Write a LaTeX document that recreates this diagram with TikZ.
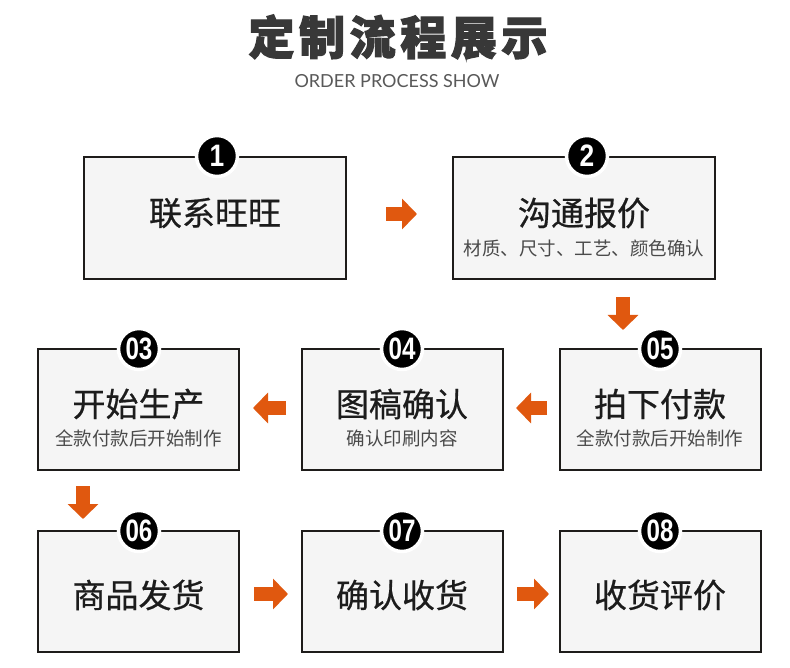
\documentclass[tikz,border=0pt]{standalone}
\usepackage{fontspec}
\setmainfont{Noto Sans CJK SC}
\newfontfamily\titlefont[FakeBold=2.5,LetterSpace=10]{Noto Sans CJK SC}
\newfontfamily\maincjk[FakeBold=0.6]{Noto Sans CJK SC}
\newfontfamily\latinfont{Lato}
\newfontfamily\numfont{Liberation Sans}
\usetikzlibrary{arrows.meta}
\definecolor{boxfill}{HTML}{F5F5F5}
\definecolor{boxline}{HTML}{1E1C1A}
\definecolor{arr}{HTML}{E0580F}
\definecolor{maintext}{HTML}{1C1C1C}
\definecolor{subtext}{HTML}{4A4A4A}
\begin{document}
\begin{tikzpicture}[x=1pt,y=-1pt,
  stepbox/.style={draw=boxline,line width=2pt,fill=boxfill,minimum width=#1,minimum height=121pt,inner sep=0pt},
  numc/.style={circle,fill=black,draw=white,line width=3.5pt,minimum size=41pt,inner sep=0pt,text=white,font=\numfont\bfseries\fontsize{31}{31}\selectfont},
  mtext/.style={text=maintext,font=\maincjk\fontsize{33}{33}\selectfont,inner sep=0pt},
  stext/.style={text=subtext,font=\fontsize{18.5}{18.5}\selectfont,inner sep=0pt},
  barrow/.style={draw=arr,line width=14pt,-{Triangle[length=15pt,width=30pt]}}
]
\useasboundingbox (0,0) rectangle (790,668);
\fill[white] (0,0) rectangle (790,668);
% title
\node[text=black!78,font=\titlefont\bfseries\fontsize{46}{46}\selectfont,inner sep=0pt] (title) at (398,37) {定制流程展示};
\node[text=black!65,font=\latinfont\fontsize{18}{18}\selectfont,inner sep=0pt] (subtitle) at (397,81) {ORDER PROCESS SHOW};
% row 1
\node[stepbox=262pt,minimum height=122pt] (b1) at (215,218) {};
\node[stepbox=262pt,minimum height=122pt] (b2) at (584,218) {};
\node[mtext] (t1) at (215,213) {联系旺旺};
\node[mtext] (t2) at (584,213) {沟通报价};
\node[stext] (s2) at (584,248) {材质、尺寸、工艺、颜色确认};
\node[numc] (n1) at (217,156) {\scalebox{0.85}[1]{1}};
\node[numc] (n2) at (587,156) {\scalebox{0.85}[1]{2}};
% row 2
\node[stepbox=201pt] (b3) at (138.5,409.5) {};
\node[stepbox=201pt] (b4) at (402,409.5) {};
\node[stepbox=201pt] (b5) at (660,409.5) {};
\node[mtext] (t3) at (138.5,404) {开始生产};
\node[stext] (s3) at (138.5,438) {全款付款后开始制作};
\node[mtext] (t4) at (402,404) {图稿确认};
\node[stext] (s4) at (402,438) {确认印刷内容};
\node[mtext] (t5) at (660,404) {拍下付款};
\node[stext] (s5) at (660,438) {全款付款后开始制作};
\node[numc] (n3) at (139,349) {\scalebox{0.78}[1]{03}};
\node[numc] (n4) at (402,349) {\scalebox{0.78}[1]{04}};
\node[numc] (n5) at (660,349) {\scalebox{0.78}[1]{05}};
% row 3
\node[stepbox=201pt] (b6) at (138.5,591.5) {};
\node[stepbox=201pt] (b7) at (402,591.5) {};
\node[stepbox=201pt] (b8) at (660,591.5) {};
\node[mtext] (t6) at (138.5,595) {商品发货};
\node[mtext] (t7) at (402,595) {确认收货};
\node[mtext] (t8) at (660,595) {收货评价};
\node[numc] (n6) at (139,531) {\scalebox{0.78}[1]{06}};
\node[numc] (n7) at (402,531) {\scalebox{0.78}[1]{07}};
\node[numc] (n8) at (660,531) {\scalebox{0.78}[1]{08}};
% arrows
\draw[barrow,shorten <=39pt,shorten >=35pt] ([yshift=4pt]b1.east) -- ([yshift=4pt]b2.west);
\draw[barrow] ([xshift=39pt,yshift=-17pt]b2.south) -- ([xshift=-37pt,yshift=18pt]b5.north);
\draw[barrow,shorten <=11.5pt,shorten >=12.5pt] ([yshift=1.5pt]b5.west) -- ([yshift=1.5pt]b4.east);
\draw[barrow,shorten <=14.5pt,shorten >=13pt] ([yshift=1.5pt]b4.west) -- ([yshift=1.5pt]b3.east);
\draw[barrow] ([xshift=-55.5pt,yshift=-15pt]b3.south) -- ([xshift=-55.5pt,yshift=11pt]b6.north);
\draw[barrow,shorten <=14pt,shorten >=12.5pt] ([yshift=-2.5pt]b6.east) -- ([yshift=-2.5pt]b7.west);
\draw[barrow,shorten <=13.5pt,shorten >=9.5pt] ([yshift=-2.5pt]b7.east) -- ([yshift=-2.5pt]b8.west);
\end{tikzpicture}
\end{document}
